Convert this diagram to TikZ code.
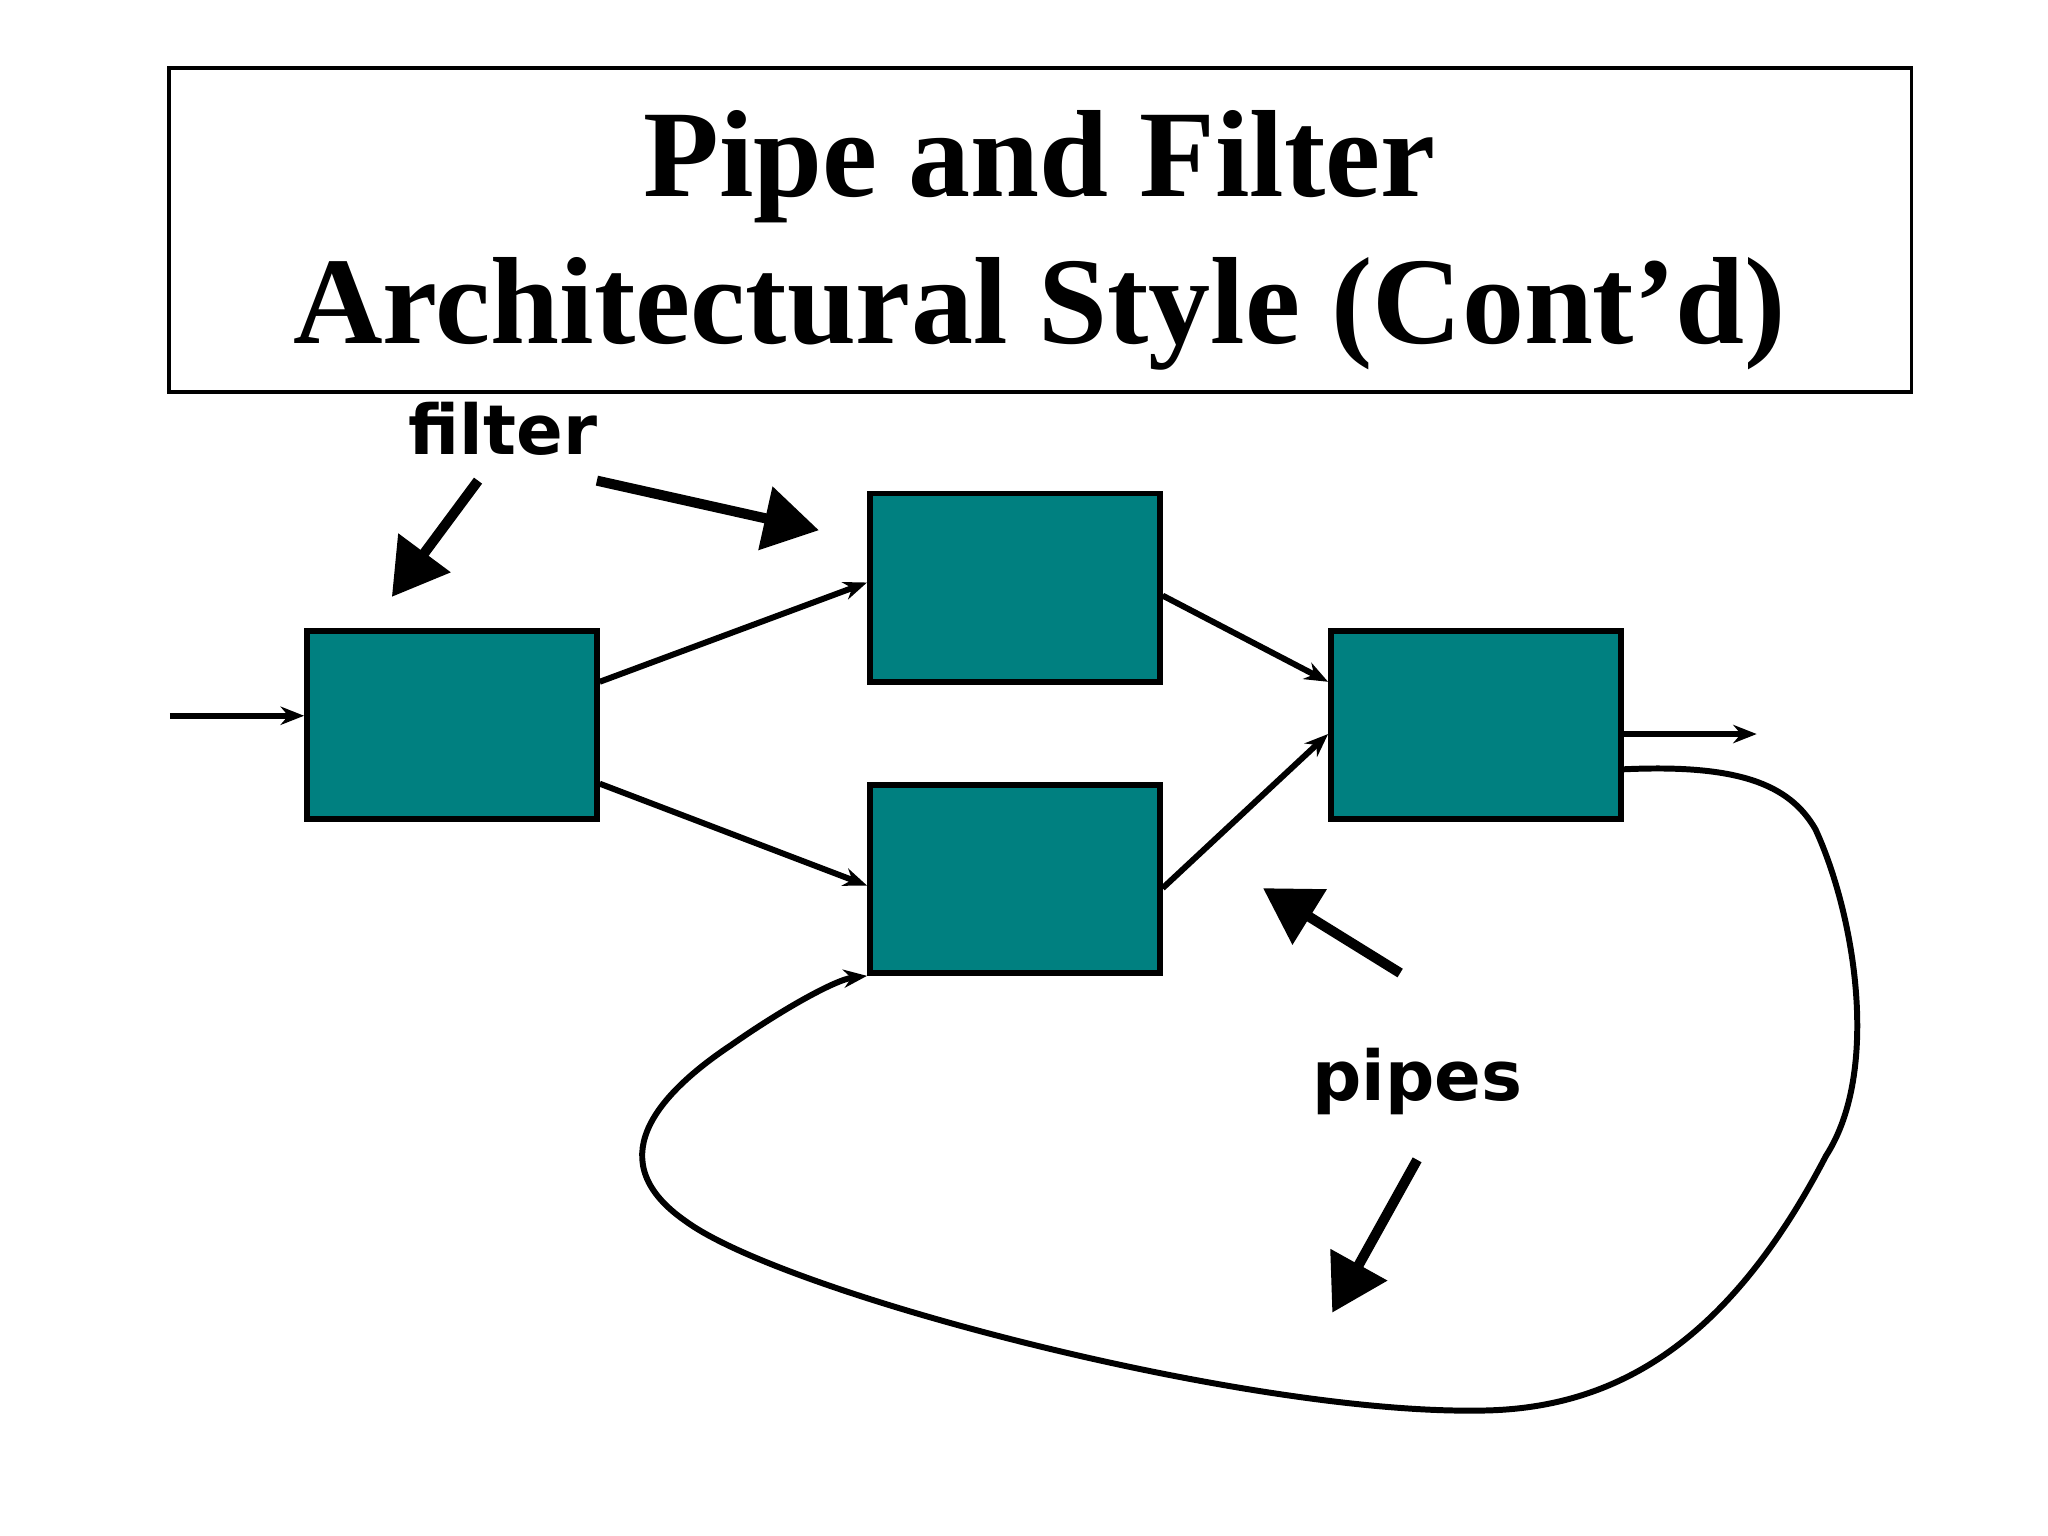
\documentclass[tikz,border=0pt]{standalone}
\usepackage{fontspec}
\setmainfont{Liberation Serif}
\newfontfamily\lbl{DejaVu Sans}
\usetikzlibrary{arrows.meta}
\begin{document}
\begin{tikzpicture}[x=0.01cm,y=-0.01cm,
  filt/.style={draw=black,line width=1.2pt,fill={rgb,255:red,0;green,128;blue,128},minimum width=2.22cm,minimum height=1.44cm,inner sep=0},
  pipe/.style={line width=1.3pt,-{Stealth[length=0.18cm,width=0.14cm]}},
  point/.style={line width=2.2pt,-{Triangle[length=0.42cm,width=0.48cm]}},
  lab/.style={font=\lbl\bfseries\fontsize{15}{18}\selectfont}]
\useasboundingbox (0,0) rectangle (1568,1176);
\node[draw,line width=0.8pt,minimum width=13.33cm,minimum height=2.48cm,inner sep=0] (title) at (796.5,176) {};
\node[font=\bfseries\fontsize{27}{32}\selectfont,align=center] (t) at (796,184) {Pipe and Filter\\Architectural Style (Cont’d)};
\node[filt] (A) at (346,555) {};
\node[filt] (B) at (777,450) {};
\node[filt] (C) at (777,673) {};
\node[filt] (D) at (1130,555) {};
\coordinate (in) at (130,548);
\coordinate (out) at (1345,562);
\draw[pipe] (in) -- (A.west|-in);
\draw[pipe] (A.east|-0,522) -- (B.west|-0,446);
\draw[pipe] (A.east|-0,600) -- (C.west|-0,678);
\draw[pipe] (B.east|-0,456) -- (D.west|-0,522);
\draw[pipe] (C.east|-0,680) -- (D.west|-0,562);
\draw[pipe] (D.east|-out) -- (out);
\draw[pipe] (D.east|-0,589) .. controls (1330,585) and (1370,600) .. (1390,635)
  .. controls (1420,700) and (1440,820) .. (1398,885)
  .. controls (1320,1035) and (1230,1080) .. (1130,1080)
  .. controls (950,1082) and (600,990) .. (525,935)
  .. controls (460,890) and (500,840) .. (560,800)
  .. controls (600,772) and (640,750) .. (C.south west);
\node[lab] (f) at (385,328) {filter};
\node[lab] (p) at (1085,828) {pipes};
\coordinate (f1s) at (366,368); \coordinate (f1e) at (300,457);
\coordinate (f2s) at (457,368); \coordinate (f2e) at (627,406);
\coordinate (p1s) at (1072,745); \coordinate (p1e) at (967,680);
\coordinate (p2s) at (1085,888); \coordinate (p2e) at (1020,1005);
\draw[point] (f1s) -- (f1e);
\draw[point] (f2s) -- (f2e);
\draw[point] (p1s) -- (p1e);
\draw[point] (p2s) -- (p2e);
\end{tikzpicture}
\end{document}
